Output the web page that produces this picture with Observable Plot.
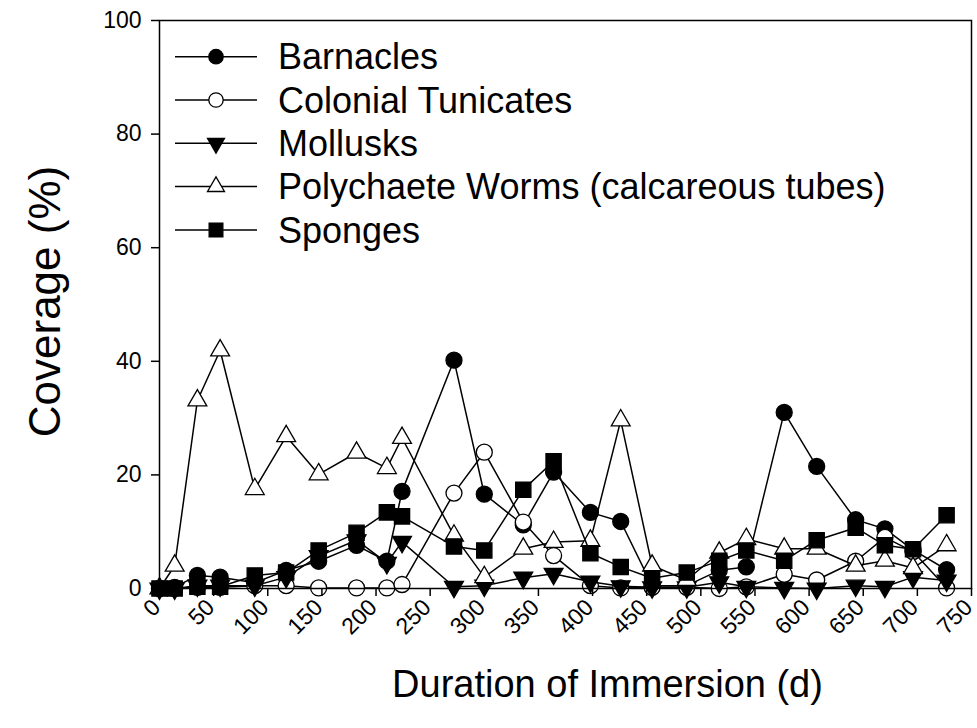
<!DOCTYPE html>
<html><head><meta charset="utf-8">
<script src="https://cdn.jsdelivr.net/npm/d3@7"></script>
<script src="https://cdn.jsdelivr.net/npm/@observablehq/plot@0.6"></script>
<style>
body{margin:0;background:#fff;font-family:"Liberation Sans",Arial,sans-serif;}
#wrap{position:relative;width:977px;height:728px;overflow:hidden;}
#legend{position:absolute;left:0;top:0;}
</style></head><body><div id="wrap"></div>
<script>
const days = [0,14,35,56,88,117,147,182,210,224,272,300,336,364,398,426,455,487,517,542,577,607,643,670,696,727];
const barnacles  = [0,0.2,2.3,2.0,1.0,3.2,4.8,7.6,4.8,17.1,40.2,16.6,11.2,20.5,13.4,11.8,0.5,0.5,3.2,3.8,31.0,21.5,12.1,10.5,6.8,3.3];
const tunicates  = [0,0,0.2,0.2,0.5,0.5,0.1,0.1,0.1,0.7,16.8,24.0,11.7,5.8,0.5,0.1,0.2,0.2,0,0.3,2.5,1.5,4.8,9.0,6.5,0.1];
const mollusks   = [0,0,0.5,0.5,0.5,2.0,5.7,8.5,4.5,8.2,0.3,0.5,1.9,2.6,1.2,0.4,0.2,0.2,1.1,0.3,0.1,0,0.5,0.3,2.0,1.4];
const polychaete = [0,4.0,33.1,41.9,17.5,26.8,20.1,23.9,21.2,26.5,9.3,2.0,7.0,8.2,8.4,29.6,4.0,1.5,6.3,8.7,7.0,7.0,4.0,4.9,3.6,7.6];
const sponges    = [0,0,0.3,0.3,2.3,2.8,6.7,9.8,13.4,12.7,7.4,6.7,17.4,22.4,6.2,3.8,1.8,2.8,4.9,6.7,4.9,8.5,10.7,7.6,6.9,12.9];
const seriesNames = ["Barnacles","Colonial Tunicates","Mollusks","Polychaete Worms (calcareous tubes)","Sponges"];
const yTicks = [0,20,40,60,80,100];
const xTicks = d3.range(0, 751, 50);

const sqrt3 = Math.sqrt(3);
const triangleDown = {
  draw(context, size) {
    const y = -Math.sqrt(size / (sqrt3 * 3));
    context.moveTo(0, -y * 2);
    context.lineTo(-sqrt3 * y, y);
    context.lineTo(sqrt3 * y, y);
    context.closePath();
  }
};
const styles = [
  {values: barnacles, symbol: "circle", fill: "black", r: 8},
  {values: tunicates, symbol: "circle", fill: "white", r: 8},
  {values: mollusks, symbol: triangleDown, fill: "black", r: 7},
  {values: polychaete, symbol: "triangle", fill: "white", r: 7},
  {values: sponges, symbol: "square", fill: "black", r: 8.6}
];

const marks = [];
styles.forEach((s, i) => {
  const rows = days.map((d, j) => ({day: d, value: s.values[j], series: seriesNames[i]}));
  marks.push(Plot.line(rows, {x: "day", y: "value", stroke: "black", strokeWidth: 1.5}));
  marks.push(Plot.dot(rows, {x: "day", y: "value", symbol: s.symbol, r: s.r, fill: s.fill, stroke: "black", strokeWidth: 1.3}));
});

const chart = Plot.plot({
  width: 977, height: 728,
  marginLeft: 159, marginRight: 6, marginTop: 20, marginBottom: 140,
  style: {fontFamily: "Liberation Sans, Arial, sans-serif", background: "white", color: "black"},
  x: {domain: [0, 750]},
  y: {domain: [0, 100]},
  marks: [
    ...marks,
    Plot.frame({stroke: "black", strokeWidth: 1.5}),
    Plot.axisY({ticks: yTicks, tickSize: 8, tickPadding: 10, fontSize: 23, label: null, strokeWidth: 1.5}),
    Plot.axisX({ticks: xTicks, tickSize: 8, tickFormat: () => "", label: null, strokeWidth: 1.5}),
    Plot.axisX({ticks: xTicks, tickSize: 0, tickPadding: 15, tickRotate: -45, fontSize: 23, label: null, dx: -3}),
    Plot.text(["Duration of Immersion (d)"], {frameAnchor: "bottom", textAnchor: "middle", dx: 42, dy: 108, fontSize: 38, fill: "black"}),
    Plot.text(["Coverage (%)"], {frameAnchor: "left", textAnchor: "middle", rotate: -90, dx: -114, dy: -3, fontSize: 44, fill: "black"})
  ]
});
document.getElementById("wrap").appendChild(chart);

// legend overlay
const leg = d3.select("#wrap").append("svg").attr("id", "legend").attr("width", 977).attr("height", 728)
  .style("font-family", "Liberation Sans, Arial, sans-serif");
styles.forEach((s, i) => {
  const y = 56.7 + 43.3 * i;
  const g = leg.append("g").attr("transform", `translate(0,${y})`);
  g.append("line").attr("x1", 175).attr("x2", 257).attr("y1", 0).attr("y2", 0).attr("stroke", "black").attr("stroke-width", 1.5);
  const sym = typeof s.symbol === "string" ? {circle: d3.symbolCircle, triangle: d3.symbolTriangle, square: d3.symbolSquare}[s.symbol] : s.symbol;
  const rr = s.r * 0.9;
  g.append("path").attr("d", d3.symbol(sym, Math.PI * rr * rr)()).attr("transform", "translate(216,0)")
    .attr("fill", s.fill).attr("stroke", "black").attr("stroke-width", 1.3);
  g.append("text").attr("x", 278).attr("y", 0).attr("dy", "0.35em").attr("font-size", 36).text(seriesNames[i]);
});
</script></body></html>
